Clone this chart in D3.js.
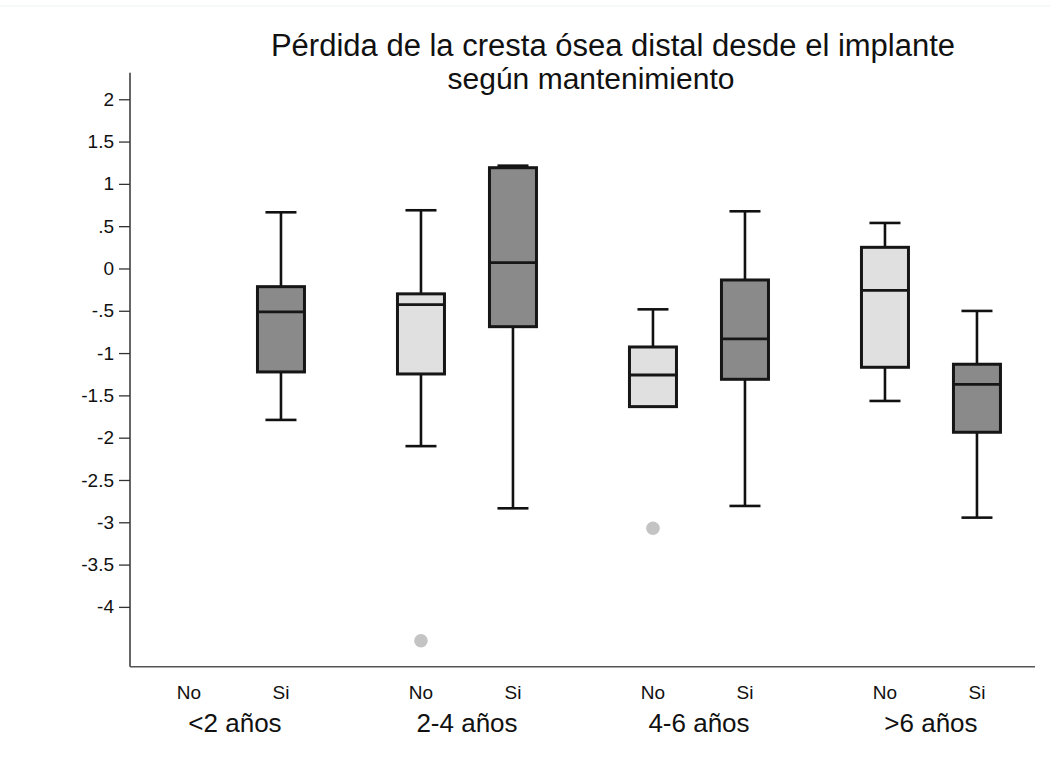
<!DOCTYPE html>
<html>
<head>
<meta charset="utf-8">
<script src="https://cdn.jsdelivr.net/npm/d3@7"></script>
<style>
  html, body { margin: 0; padding: 0; background: #fff; }
  svg { display: block; font-family: "Liberation Sans", Arial, sans-serif; }
</style>
</head>
<body>
<svg id="chart" width="1051" height="772"></svg>
<script>
// ---- data ----
const groups = ["<2 años", "2-4 años", "4-6 años", ">6 años"];
const subgroups = ["No", "Si"];
// one entry per (group, subgroup) in order: <2 No, <2 Si, 2-4 No, 2-4 Si, 4-6 No, 4-6 Si, >6 No, >6 Si
const whiskerLow  = [null, -1.79, -2.10, -2.835, -1.633, -2.807, -1.566, -2.945];
const q1Values    = [null, -1.223, -1.247, -0.688, -1.633, -1.31, -1.168, -1.936];
const medianValues= [null, -0.514, -0.428, 0.069, -1.259, -0.833, -0.258, -1.369];
const q3Values    = [null, -0.215, -0.30, 1.191, -0.928, -0.136, 0.25, -1.132];
const whiskerHigh = [null, 0.664, 0.688, 1.215, -0.483, 0.676, 0.538, -0.502];
const outliers = [
  { box: 2, value: -4.40 },
  { box: 4, value: -3.07 }
];
const yTicks = [2, 1.5, 1, 0.5, 0, -0.5, -1, -1.5, -2, -2.5, -3, -3.5, -4];
const yTickLabels = ["2", "1.5", "1", ".5", "0", "-.5", "-1", "-1.5", "-2", "-2.5", "-3", "-3.5", "-4"];
const titleLines = ["Pérdida de la cresta ósea distal desde el implante", "según mantenimiento"];

// ---- layout ----
const svg = d3.select("#chart");
const plotLeft = 130, plotRight = 1035, plotTop = 72.7, plotBottom = 666.7;
const groupStep = 232 / 92; // group spacing in units of within-group spacing

const y = d3.scaleLinear().domain([-4.707, 2.314]).range([plotBottom, plotTop]);
const x = d3.scaleLinear().domain([-0.641, 9.196]).range([plotLeft, plotRight]);
const pos = (g, s) => g * groupStep + s;

const boxes = [];
groups.forEach((g, gi) => subgroups.forEach((s, si) => {
  const i = gi * 2 + si;
  boxes.push({ i, group: g, sub: s, u: pos(gi, si),
    lw: whiskerLow[i], q1: q1Values[i], med: medianValues[i], q3: q3Values[i], uw: whiskerHigh[i] });
}));

const fills = { "No": "#e0e0e0", "Si": "#8a8a8a" };
const boxW = 47, capW = 31;

// faint outer border line
svg.append("line").attr("x1", 0).attr("x2", 1051).attr("y1", 6).attr("y2", 6)
  .attr("stroke", "#eef3f3").attr("stroke-width", 1);

// y axis
const yAxis = d3.axisLeft(y).tickValues(yTicks)
  .tickFormat((d, i) => yTickLabels[i]).tickSize(11).tickPadding(5);
const gy = svg.append("g").attr("transform", `translate(${plotLeft},0)`).call(yAxis);
gy.select(".domain").attr("stroke", "#333").attr("stroke-width", 1.5)
  .attr("d", `M0,${plotTop}V${plotBottom}`);
gy.selectAll(".tick line").attr("stroke", "#333").attr("stroke-width", 1.3);
gy.selectAll(".tick text").attr("font-size", 19).attr("fill", "#111")
  .attr("font-family", "'Liberation Sans', Arial, sans-serif");

// x axis line
svg.append("line").attr("x1", plotLeft).attr("x2", plotRight)
  .attr("y1", plotBottom).attr("y2", plotBottom)
  .attr("stroke", "#555").attr("stroke-width", 1.6);

const valid = boxes.filter(b => b.q1 !== null);

// whiskers
const gW = svg.append("g").attr("stroke", "#111").attr("stroke-width", 2.6);
valid.forEach(b => {
  const cx = x(b.u);
  gW.append("line").attr("x1", cx).attr("x2", cx).attr("y1", y(b.uw)).attr("y2", y(b.q3));
  gW.append("line").attr("x1", cx).attr("x2", cx).attr("y1", y(b.q1)).attr("y2", y(b.lw));
  gW.append("line").attr("x1", cx - capW / 2).attr("x2", cx + capW / 2).attr("y1", y(b.uw)).attr("y2", y(b.uw));
  gW.append("line").attr("x1", cx - capW / 2).attr("x2", cx + capW / 2).attr("y1", y(b.lw)).attr("y2", y(b.lw));
});

// boxes
svg.append("g").selectAll("rect").data(valid).join("rect")
  .attr("x", b => x(b.u) - boxW / 2)
  .attr("width", boxW)
  .attr("y", b => y(b.q3))
  .attr("height", b => y(b.q1) - y(b.q3))
  .attr("fill", b => fills[b.sub])
  .attr("stroke", "#161616").attr("stroke-width", 3);

// medians
svg.append("g").selectAll("line").data(valid).join("line")
  .attr("x1", b => x(b.u) - boxW / 2).attr("x2", b => x(b.u) + boxW / 2)
  .attr("y1", b => y(b.med)).attr("y2", b => y(b.med))
  .attr("stroke", "#161616").attr("stroke-width", 2.8);

// outliers
svg.append("g").selectAll("circle").data(outliers).join("circle")
  .attr("cx", d => x(boxes[d.box].u))
  .attr("cy", d => y(d.value))
  .attr("r", 6.8)
  .attr("fill", "#c4c4c4");

// subgroup labels
svg.append("g").selectAll("text").data(boxes).join("text")
  .attr("x", b => x(b.u)).attr("y", 699)
  .attr("text-anchor", "middle").attr("font-size", 19).attr("fill", "#111")
  .text(b => b.sub);

// group labels
svg.append("g").selectAll("text").data(groups).join("text")
  .attr("x", (g, gi) => x(pos(gi, 0.5))).attr("y", 732)
  .attr("text-anchor", "middle").attr("font-size", 26).attr("fill", "#111")
  .text(g => g);

// title
svg.append("text").attr("x", 613).attr("y", 56).attr("text-anchor", "middle")
  .attr("font-size", 31).attr("fill", "#111").text(titleLines[0]);
svg.append("text").attr("x", 591).attr("y", 89).attr("text-anchor", "middle")
  .attr("font-size", 30).attr("fill", "#111").text(titleLines[1]);
</script>
</body>
</html>
